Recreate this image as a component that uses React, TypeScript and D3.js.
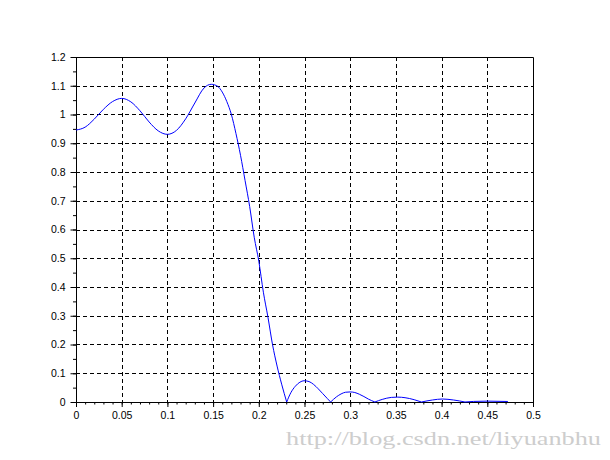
import * as d3 from "d3";
import { useEffect, useRef } from "react";

// normalised frequency / magnitude (main lobe + side lobes)
const mainX = [0, 0.01, 0.02, 0.03, 0.04, 0.05, 0.06, 0.07, 0.08, 0.09, 0.1, 0.11, 0.12, 0.13, 0.14, 0.148, 0.155, 0.16, 0.165, 0.17, 0.175, 0.18, 0.185, 0.19, 0.195, 0.2, 0.205, 0.21, 0.215, 0.22, 0.225, 0.2305];
const mainY = [0.946, 0.956, 0.984, 1.018, 1.045, 1.056, 1.044, 1.013, 0.974, 0.943, 0.931, 0.945, 0.985, 1.04, 1.092, 1.105, 1.098, 1.078, 1.045, 1.0, 0.934, 0.858, 0.77, 0.68, 0.573, 0.49, 0.382, 0.295, 0.2, 0.125, 0.062, 0];

const side1X = [0.2305, 0.235, 0.24, 0.245, 0.2495, 0.255, 0.26, 0.265, 0.27, 0.275, 0.2786];
const side1Y = [0, 0.032, 0.055, 0.069, 0.074, 0.071, 0.061, 0.046, 0.029, 0.012, 0];
const side2X = [0.2786, 0.285, 0.29, 0.295, 0.3, 0.305, 0.31, 0.315, 0.32, 0.327];
const side2Y = [0, 0.018, 0.028, 0.034, 0.035, 0.033, 0.027, 0.019, 0.01, 0];
const side3X = [0.327, 0.335, 0.345, 0.352, 0.36, 0.37, 0.378];
const side3Y = [0, 0.009, 0.016, 0.017, 0.015, 0.008, 0];
const side4X = [0.378, 0.39, 0.401, 0.413, 0.4256];
const side4Y = [0, 0.007, 0.0104, 0.007, 0];
const side5X = [0.4256, 0.435, 0.45, 0.465, 0.4725];
const side5Y = [0, 0.002, 0.003, 0.0022, 0.0018];

const xTicks = [0, 0.05, 0.1, 0.15, 0.2, 0.25, 0.3, 0.35, 0.4, 0.45, 0.5];
const xTickLabels = ["0", "0.05", "0.1", "0.15", "0.2", "0.25", "0.3", "0.35", "0.4", "0.45", "0.5"];
const yTicks = [0, 0.1, 0.2, 0.3, 0.4, 0.5, 0.6, 0.7, 0.8, 0.9, 1, 1.1, 1.2];
const yTickLabels = ["0", "0.1", "0.2", "0.3", "0.4", "0.5", "0.6", "0.7", "0.8", "0.9", "1", "1.1", "1.2"];

const watermark = "http://blog.csdn.net/liyuanbhu";

const W = 610;
const H = 460;
const margin = { top: 57, right: 77, bottom: 58, left: 76 };

const App = () => {
    const svgRef = useRef<SVGSVGElement | null>(null);

    useEffect(() => {
        if (!svgRef.current) return;
        const svg = d3.select(svgRef.current);
        svg.selectAll("*").remove();

        const x = d3.scaleLinear().domain([0, 0.5]).range([margin.left, W - margin.right]);
        const y = d3.scaleLinear().domain([0, 1.2]).range([H - margin.bottom, margin.top]);
        const font = "'Liberation Sans', Arial, sans-serif";

        svg.append("rect").attr("width", W).attr("height", H).attr("fill", "#fff");

        // dashed grid
        const grid = svg.append("g").attr("stroke", "#000").attr("stroke-width", 1).attr("stroke-dasharray", "4,3");
        grid.selectAll(".gx")
            .data(xTicks.slice(1, -1))
            .enter()
            .append("line")
            .attr("x1", d => Math.round(x(d)) + 0.5)
            .attr("x2", d => Math.round(x(d)) + 0.5)
            .attr("y1", y(1.2))
            .attr("y2", y(0));
        grid.selectAll(".gy")
            .data(yTicks.slice(1, -1))
            .enter()
            .append("line")
            .attr("y1", d => Math.round(y(d)) + 0.5)
            .attr("y2", d => Math.round(y(d)) + 0.5)
            .attr("x1", x(0))
            .attr("x2", x(0.5));

        // top and right border
        svg.append("path")
            .attr("d", `M${x(0)},${y(1.2) + 0.5}H${x(0.5) + 0.5}V${y(0)}`)
            .attr("fill", "none")
            .attr("stroke", "#000");

        // axes
        const xMinor = d3.range(0, 51).map(i => i / 100);
        svg.append("g")
            .attr("transform", `translate(0,${y(0)})`)
            .call(d3.axisBottom(x).tickValues(xMinor).tickSize(2.5).tickSizeOuter(0).tickFormat(() => ""));
        svg.append("g")
            .attr("transform", `translate(0,${y(0)})`)
            .call(d3.axisBottom(x).tickValues(xTicks).tickSize(5).tickSizeOuter(0).tickPadding(5)
                .tickFormat((d, i) => xTickLabels[i]));

        const yMinor = d3.range(0, 25).map(i => i / 20);
        svg.append("g")
            .attr("transform", `translate(${x(0)},0)`)
            .call(d3.axisLeft(y).tickValues(yMinor).tickSize(3).tickSizeOuter(0).tickFormat(() => ""));
        svg.append("g")
            .attr("transform", `translate(${x(0)},0)`)
            .call(d3.axisLeft(y).tickValues(yTicks).tickSize(5.5).tickSizeOuter(0).tickPadding(5)
                .tickFormat((d, i) => yTickLabels[i]));

        svg.selectAll(".tick text")
            .attr("font-family", font)
            .attr("font-size", 10.5)
            .attr("fill", "#000");

        // response curve, one path per lobe so the nulls stay sharp
        const line = d3.line<[number, number]>()
            .x(d => x(d[0]))
            .y(d => y(d[1]))
            .curve(d3.curveMonotoneX);
        const lobes = [
            [mainX, mainY],
            [side1X, side1Y],
            [side2X, side2Y],
            [side3X, side3Y],
            [side4X, side4Y],
            [side5X, side5Y],
        ];
        svg.append("g")
            .selectAll("path")
            .data(lobes)
            .enter()
            .append("path")
            .attr("d", ([xs, ys]) => line(xs.map((v, i) => [v, ys[i]] as [number, number])))
            .attr("fill", "none")
            .attr("stroke", "#0000ff")
            .attr("stroke-width", 1);

        svg.append("text")
            .attr("x", 286)
            .attr("y", 445)
            .attr("textLength", 315)
            .attr("lengthAdjust", "spacingAndGlyphs")
            .attr("font-family", "'Liberation Serif', serif")
            .attr("font-size", 19)
            .attr("fill", "#cdcdcd")
            .text(watermark);
    }, []);

    return (
        <svg
            ref={svgRef}
            width={W}
            height={H}
            style={{ position: "absolute", left: 0, top: 0, display: "block" }}
        />
    );
};

export default App;
